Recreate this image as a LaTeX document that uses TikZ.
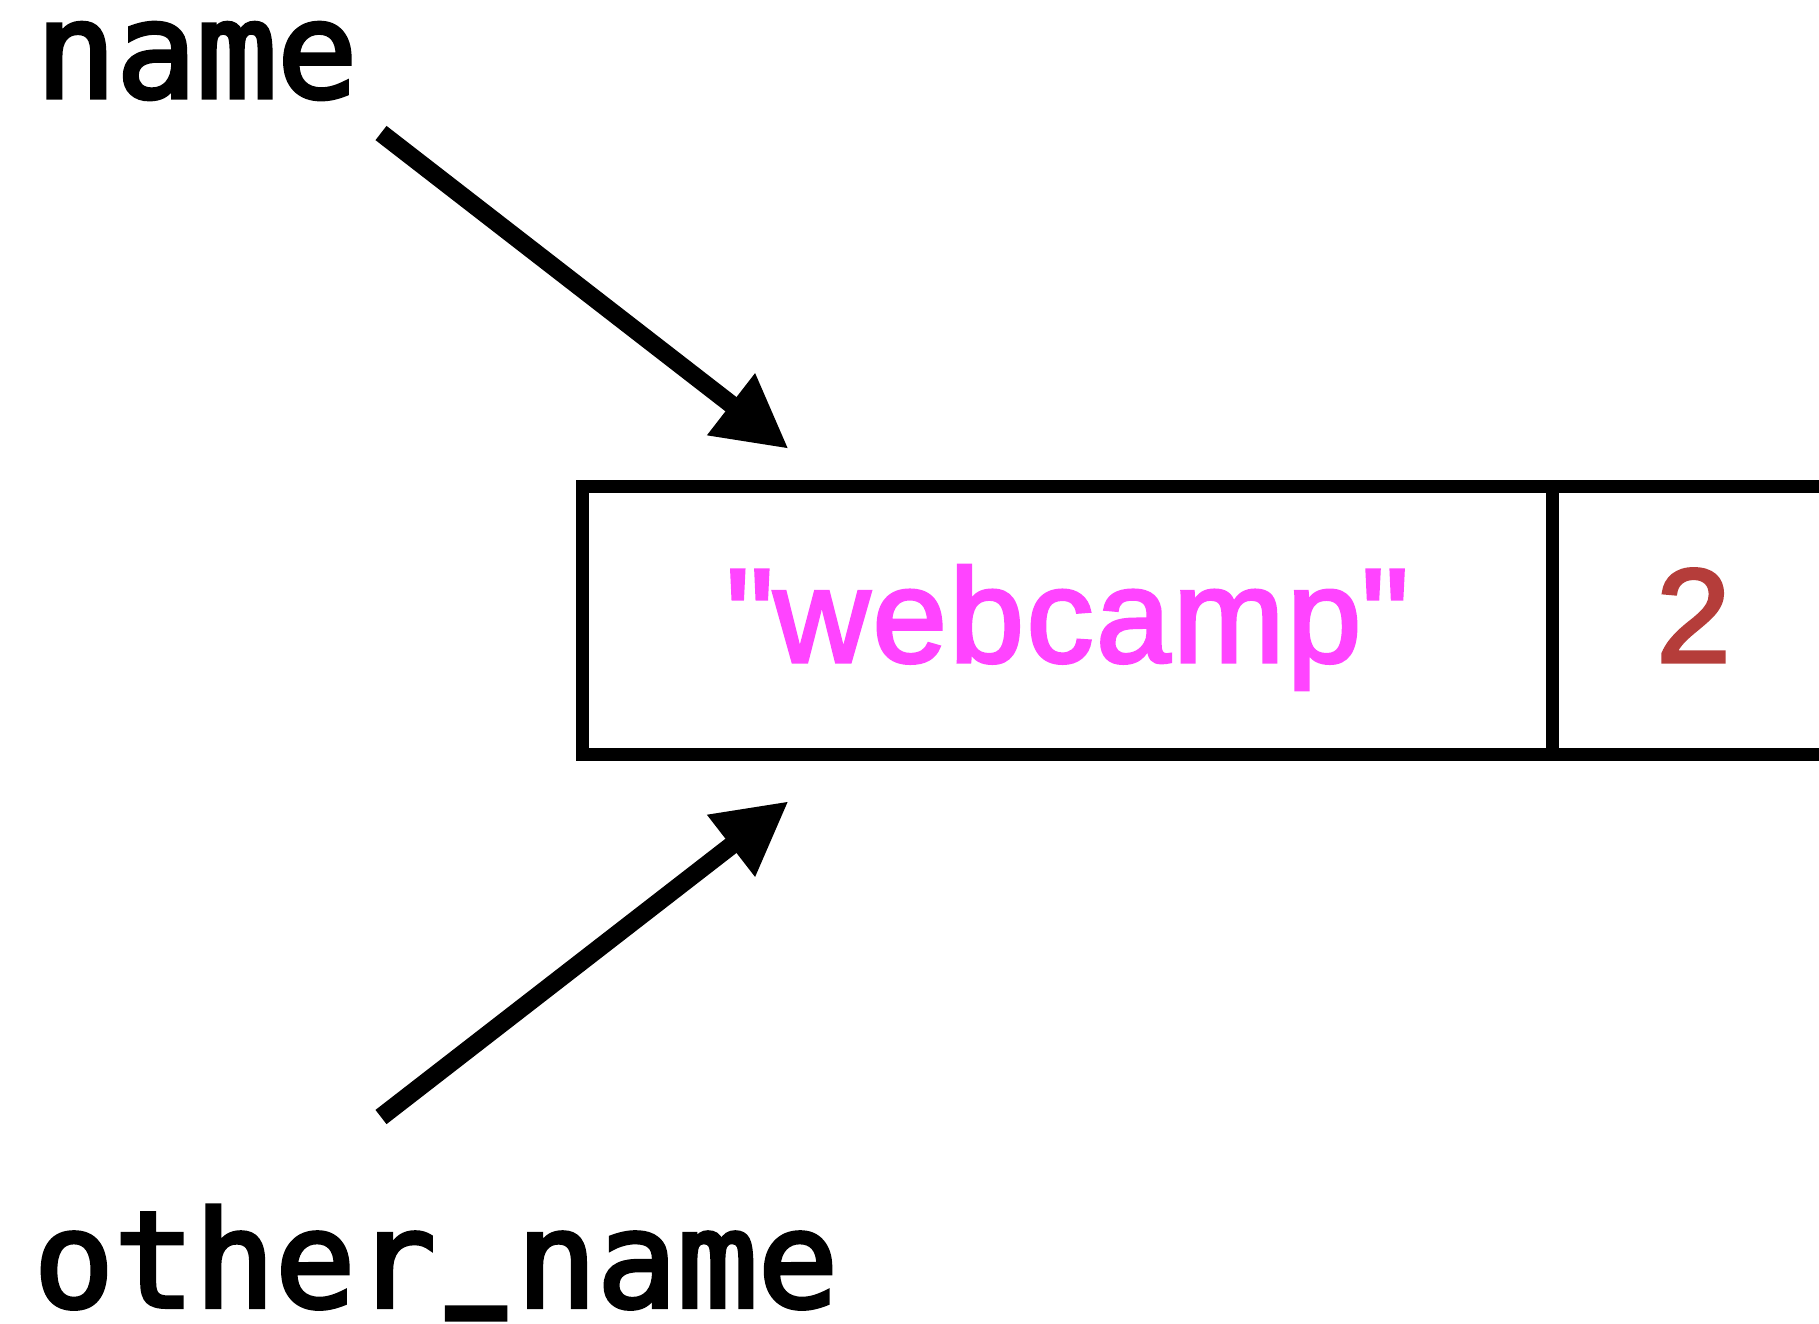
\documentclass[tikz,border=0pt]{standalone}
\usepackage{fontspec}
\usepackage{graphicx}
\newfontfamily\valfont{Liberation Sans}[FakeBold=2.5, LetterSpace=2]
\newfontfamily\codefont{DejaVu Sans Mono}[FakeBold=3]
\usetikzlibrary{arrows.meta}
\definecolor{strpink}{HTML}{FF44FF}
\definecolor{numred}{HTML}{B53D3A}
\newcommand{\barunder}{\makebox[0.602em]{\raisebox{0.33em}{\scalebox{0.74}[1.75]{\_}}}}
\begin{document}
\begin{tikzpicture}[x=0.01cm, y=-0.01cm, line join=miter,
  cell/.style={draw, line width=0.13cm, outer sep=0, inner sep=0, minimum height=2.67cm, text height=1cm, text depth=0.17cm, font=\valfont\fontsize{38}{38}\selectfont},
  var/.style={anchor=base west, inner sep=0, text depth=0pt, font=\codefont\fontsize{38}{38}\selectfont},
  ref/.style={line width=0.18cm, -{Triangle[length=0.73cm,width=0.73cm]}}]
\useasboundingbox (0,0) rectangle (1819,1323);
\clip (0,0) rectangle (1819,1323);
% the tuple in memory
\node[cell, minimum width=9.69cm, text=strpink] (str) at (1067.5,620.5) {\textquotedbl webcamp\textquotedbl};
\node[cell, minimum width=2.82cm, text=numred, anchor=west] (len) at (str.east) {2};
% the two names
\node[var] (name) at (35,97.5) {name};
\node[var] (other) at (33,1307) {other\barunder name};
\coordinate (nametail) at (381,133);
\coordinate (othertail) at (381,1117);
\coordinate (namehead) at ([shift={(206,-38)}]str.north west);
\coordinate (otherhead) at ([shift={(206,47)}]str.south west);
\draw[ref] (nametail) -- (namehead);
\draw[ref] (othertail) -- (otherhead);
\end{tikzpicture}
\end{document}
